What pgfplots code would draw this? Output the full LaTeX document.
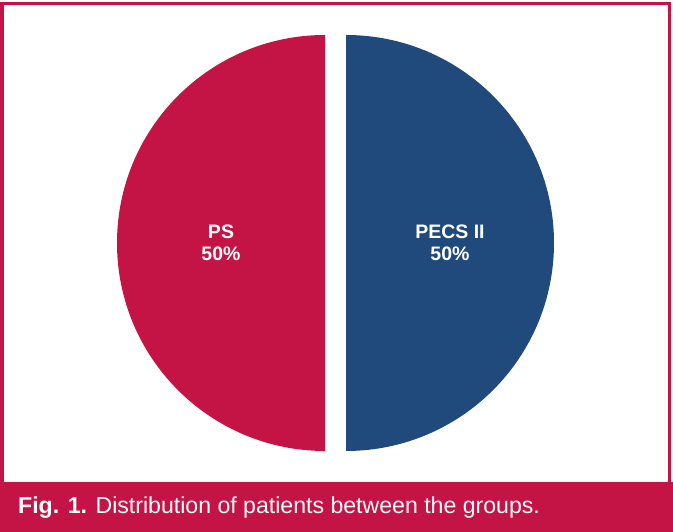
\documentclass[border=0pt]{standalone}
\usepackage{pgfplots}
\usepackage{pgfplotstable}
\usepackage{fontspec}
\setmainfont{Liberation Sans}
\pgfplotsset{compat=1.18}
\definecolor{crimson}{HTML}{C41446}
\definecolor{navy}{HTML}{1F4A7B}

\pgfplotstableread{
label value
PS 50
{PECS II} 50
}\piedata

\begin{document}
\begin{tikzpicture}
  \pgfplotstablegetelem{0}{value}\of\piedata \let\va\pgfplotsretval
  \pgfplotstablegetelem{1}{value}\of\piedata \let\vb\pgfplotsretval
  \pgfmathsetmacro\total{\va+\vb}
  \pgfmathsetmacro\aA{90}
  \pgfmathsetmacro\aB{\aA+360*(\va/\total)}
  \pgfmathsetmacro\aC{\aB+360*(\vb/\total)}
  % exploded centres and label positions (1 unit = 1pt)
  \pgfmathsetmacro\mA{(\aA+\aB)/2}
  \pgfmathsetmacro\mB{(\aB+\aC)/2}
  \pgfmathsetmacro\cxA{335.5+10.5*cos(\mA)}
  \pgfmathsetmacro\cyA{289+10.5*sin(\mA)}
  \pgfmathsetmacro\cxB{335.5+10.5*cos(\mB)}
  \pgfmathsetmacro\cyB{289+10.5*sin(\mB)}
  \pgfmathsetmacro\lxA{\cxA+104*cos(\mA)}
  \pgfmathsetmacro\lyA{\cyA+104*sin(\mA)}
  \pgfmathsetmacro\lxB{\cxB+104*cos(\mB)}
  \pgfmathsetmacro\lyB{\cyB+104*sin(\mB)}
  \begin{axis}[
    hide axis, scale only axis, clip=false,
    width=673pt, height=532pt,
    xmin=0, xmax=673, ymin=0, ymax=532,
  ]
    \addplot[draw=none, forget plot] coordinates {(0,0) (673,532)};
    \fill[white] (axis cs:0,0) rectangle (axis cs:673,532);
    % frame
    \draw[crimson, line width=3pt] (axis cs:2,50) -- (axis cs:2,528) -- (axis cs:669.5,528) -- (axis cs:669.5,50);
    % caption banner
    \fill[crimson] (axis cs:0,0) rectangle (axis cs:673,50);
    \node[anchor=base west, text=white, font=\fontsize{23.1}{26}\selectfont, inner sep=0pt]
      at (axis cs:18,18) {\textbf{Fig. 1.} Distribution of patients between the groups.};
    % slices
    \fill[crimson] (axis cs:\cxA,\cyA) -- ++(\aA:208pt) arc[start angle=\aA, end angle=\aB, radius=208pt] -- cycle;
    \fill[navy] (axis cs:\cxB,\cyB) -- ++(\aB:208pt) arc[start angle=\aB, end angle=\aC, radius=208pt] -- cycle;
    \node[text=white, align=center, font=\fontsize{19.5}{22}\selectfont\bfseries]
      at (axis cs:\lxA,\lyA) {PS\\\va\%};
    \node[text=white, align=center, font=\fontsize{19.5}{22}\selectfont\bfseries]
      at (axis cs:\lxB,\lyB) {PECS II\\\vb\%};
  \end{axis}
\end{tikzpicture}
\end{document}
